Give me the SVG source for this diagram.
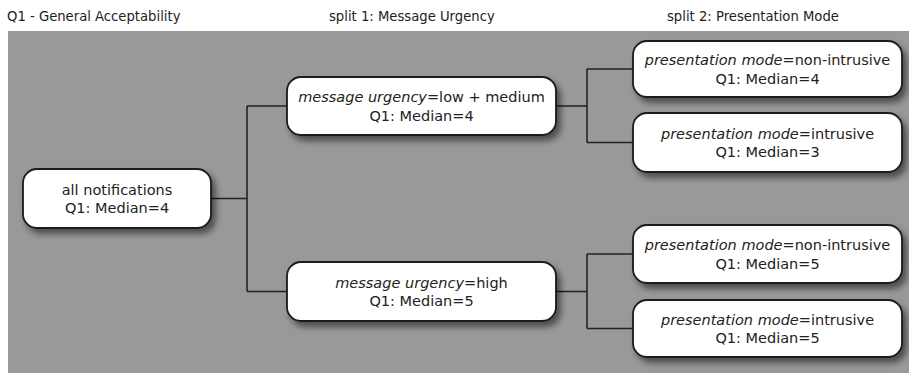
<svg xmlns="http://www.w3.org/2000/svg" width="909" height="376" viewBox="0 0 909 376">
<style>
.hdr{font-family:"DejaVu Sans","Liberation Sans",sans-serif;font-size:13.2px;fill:#222}
.box{fill:#fff;stroke:#1a1a1a;stroke-width:1.8;filter:url(#sh)}
.t{font-family:"DejaVu Sans","Liberation Sans",sans-serif;font-size:14.5px;fill:#222;text-anchor:middle}
.it{font-style:italic}
.ln{fill:none;stroke:#222;stroke-width:1.6}
</style>
<defs>
<filter id="sh" x="-10%" y="-20%" width="130%" height="160%">
<feDropShadow dx="4" dy="5" stdDeviation="3" flood-color="#000" flood-opacity="0.5"/>
</filter>
</defs>
<rect width="909" height="376" fill="#fff"/>
<rect x="8" y="31" width="901" height="342" fill="#999"/>
<g id="headers">
<text class="hdr" x="7" y="21">Q1 - General Acceptability</text>
<text class="hdr" x="329" y="21">split 1: Message Urgency</text>
<text class="hdr" x="667" y="21">split 2: Presentation Mode</text>
</g>
<g id="connectors">
<path class="ln" d="M211 198.5H247M247 106V291.5M247 106H287M247 291.5H287"/>
<path class="ln" d="M556 106H587M587 69V142.5M587 69H633M587 142.5H633"/>
<path class="ln" d="M556 291.5H587M587 254V328.5M587 254H633M587 328.5H633"/>
</g>
<g id="n-all">
<rect class="box" x="23" y="169" width="188" height="59" rx="14"/>
<text class="t" x="117" y="194.5">all notifications</text>
<text class="t" x="117" y="213">Q1: Median=4</text>
</g>
<g id="n-lowmed">
<rect class="box" x="287" y="77" width="269" height="58" rx="14"/>
<text class="t" x="421.5" y="102"><tspan class="it">message urgency</tspan>=low + medium</text>
<text class="t" x="421.5" y="120.5">Q1: Median=4</text>
</g>
<g id="n-high">
<rect class="box" x="287" y="262" width="269" height="59" rx="14"/>
<text class="t" x="421.5" y="287.5"><tspan class="it">message urgency</tspan>=high</text>
<text class="t" x="421.5" y="306">Q1: Median=5</text>
</g>
<g id="n-lm-non">
<rect class="box" x="633" y="41" width="269" height="56" rx="14"/>
<text class="t" x="767.5" y="65"><tspan class="it">presentation mode</tspan>=non-intrusive</text>
<text class="t" x="767.5" y="83.5">Q1: Median=4</text>
</g>
<g id="n-lm-int">
<rect class="box" x="633" y="113" width="269" height="59" rx="14"/>
<text class="t" x="767.5" y="138.5"><tspan class="it">presentation mode</tspan>=intrusive</text>
<text class="t" x="767.5" y="157">Q1: Median=3</text>
</g>
<g id="n-h-non">
<rect class="box" x="633" y="225" width="269" height="58" rx="14"/>
<text class="t" x="767.5" y="250"><tspan class="it">presentation mode</tspan>=non-intrusive</text>
<text class="t" x="767.5" y="268.5">Q1: Median=5</text>
</g>
<g id="n-h-int">
<rect class="box" x="633" y="300" width="269" height="57" rx="14"/>
<text class="t" x="767.5" y="324.5"><tspan class="it">presentation mode</tspan>=intrusive</text>
<text class="t" x="767.5" y="343">Q1: Median=5</text>
</g>
</svg>
